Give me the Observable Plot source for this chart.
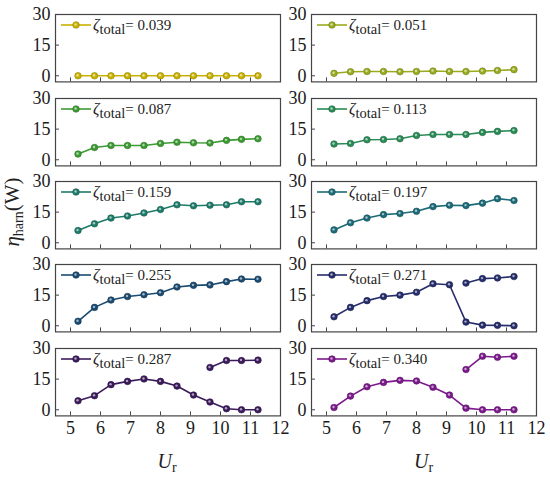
<!DOCTYPE html>
<html>
<head>
<meta charset="utf-8">
<script src="https://cdn.jsdelivr.net/npm/d3@7"></script>
<script src="https://cdn.jsdelivr.net/npm/@observablehq/plot@0.6"></script>
<style>
  html, body { margin: 0; padding: 0; background: #fff; }
  #chart { position: relative; width: 550px; height: 478px; overflow: hidden; font-family: "Liberation Serif", serif; }
  #chart svg.p { position: absolute; overflow: visible; }
</style>
</head>
<body>
<div id="chart"></div>
<script>
// ---------- data ----------
const Ur = [5.25, 5.8, 6.35, 6.9, 7.45, 8.0, 8.55, 9.1, 9.65, 10.2, 10.7, 11.25];
const UrUpper = [9.65, 10.2, 10.7, 11.25];
const zetas = ["0.039", "0.051", "0.087", "0.113", "0.159", "0.197", "0.255", "0.271", "0.287", "0.340"];
const colors = ["#c9b100", "#9aab1f", "#3c9b32", "#2a8b57", "#1e7b69", "#1c6b78", "#1b4b71", "#262d6b", "#3b1b5b", "#7b1a8b"];
const z039 = [0, 0, 0, 0, 0, 0, 0, 0, 0, 0, 0, 0];
const z051 = [1.2, 2.0, 2.1, 2.1, 2.0, 2.1, 2.3, 2.1, 2.1, 2.3, 2.6, 3.0];
const z087 = [2.8, 6.0, 7.0, 7.0, 7.0, 8.0, 8.6, 8.3, 8.2, 9.5, 10.0, 10.3];
const z113 = [7.7, 8.0, 9.8, 9.9, 10.3, 11.9, 12.4, 12.4, 12.4, 13.4, 13.9, 14.3];
const z159 = [6.0, 9.3, 12.1, 13.1, 14.6, 16.3, 18.6, 18.1, 18.4, 18.6, 20.1, 20.1];
const z197 = [6.3, 9.8, 12.1, 13.8, 14.3, 15.4, 17.7, 18.4, 18.2, 19.4, 21.6, 20.7];
const z255 = [2.2, 9.0, 12.6, 14.3, 15.2, 16.2, 19.0, 19.8, 20.0, 21.6, 22.9, 22.8];
const z271 = [4.4, 9.0, 12.3, 14.3, 15.0, 16.4, 20.6, 20.1, 1.8, 0.3, 0.2, 0.0];
const z271b = [20.9, 23.1, 23.4, 24.1];
const z287 = [4.4, 6.9, 12.3, 13.9, 15.1, 13.9, 11.6, 7.2, 3.8, 0.5, 0.0, 0.0];
const z287b = [20.7, 24.1, 24.1, 24.3];
const z340 = [1.1, 6.7, 11.3, 13.4, 14.4, 14.1, 11.0, 7.2, 0.8, 0.0, 0.0, 0.0];
const z340b = [19.7, 26.2, 25.7, 26.2];
const mainSeries = [z039, z051, z087, z113, z159, z197, z255, z271, z287, z340];
const upperSeries = [null, null, null, null, null, null, null, z271b, z287b, z340b];
const xTicks = [5, 6, 7, 8, 9, 10, 11, 12];
const yTicks = [0, 15, 30];

// ---------- layout ----------
const frameLeft = [54.5, 311];
const frameTop0 = 14.3, rowPitch = 83.3;
const fw = 225, fh = 67.4;
const mL = 40, mR = 14, mT = 10, mB = 8, mBbottom = 32;
const font = "Liberation Serif";

const chart = document.getElementById("chart");

mainSeries.forEach((vals, i) => {
  const row = Math.floor(i / 2), col = i % 2;
  const bottom = row === 4;
  const color = colors[i];
  const dark = d3.color(color).darker(0.8).formatHex();
  const data = vals.map((v, k) => ({u: Ur[k], v, branch: "a"}));
  if (upperSeries[i]) upperSeries[i].forEach((v, k) => data.push({u: UrUpper[k], v, branch: "b"}));
  const mb = bottom ? mBbottom : mB;
  const svg = Plot.plot({
    width: mL + fw + mR,
    height: mT + fh + mb,
    marginLeft: mL, marginRight: mR, marginTop: mT, marginBottom: mb,
    x: {domain: [4.5, 12]},
    y: {domain: [-3, 30]},
    style: {fontFamily: font, fontSize: "18px", color: "#222", background: "transparent", overflow: "visible"},
    marks: [
      Plot.text(yTicks, {y: d => d, frameAnchor: "left", textAnchor: "end", dx: -5,
        text: d => String(d), fontSize: 18, fontFamily: font, fill: "#1a1a1a"}),
      Plot.axisY({ticks: yTicks, tickSize: 4, dx: 4, text: null, label: null, stroke: "#444"}),
      Plot.axisX({ticks: xTicks, tickSize: 4, dy: -4, text: null, label: null, stroke: "#444"}),
      bottom ? Plot.text(xTicks, {x: d => d, frameAnchor: "bottom", lineAnchor: "top", dy: 5,
        text: d => String(d), fontSize: 18, fontFamily: font, fill: "#1a1a1a"}) : null,
      Plot.line(data, {x: "u", y: "v", z: "branch", stroke: color, strokeWidth: 1.6}),
      Plot.dot(data, {x: "u", y: "v", r: 3.3, fill: color, stroke: dark, strokeWidth: 0.6}),
      Plot.dot(data, {x: "u", y: "v", r: 1.2, fill: "white", fillOpacity: 0.6, stroke: "none", dx: -0.5, dy: -0.5}),
      Plot.frame({stroke: "#444", strokeWidth: 1.2})
    ]
  });
  svg.classList.add("p");
  svg.style.left = (frameLeft[col] - mL) + "px";
  svg.style.top = (frameTop0 + row * rowPitch - mT) + "px";
  // legend
  const g = d3.select(svg).append("g").attr("transform", `translate(${mL},${mT})`);
  const ly = 11;
  g.append("line").attr("x1", 6).attr("x2", 36).attr("y1", ly).attr("y2", ly)
    .attr("stroke", color).attr("stroke-width", 1.6);
  g.append("circle").attr("cx", 21).attr("cy", ly).attr("r", 3.3).attr("fill", color).attr("stroke", dark).attr("stroke-width", 0.6);
  g.append("circle").attr("cx", 20.5).attr("cy", ly - 0.5).attr("r", 1.2).attr("fill", "white").attr("fill-opacity", 0.6);
  const t = g.append("text").attr("x", 38).attr("y", ly + 5).attr("text-anchor", "start")
    .style("font-family", "'Liberation Serif', serif").style("font-size", "15px").attr("fill", "#222");
  t.append("tspan").attr("font-style", "italic").style("font-size", "16px").text("ζ");
  t.append("tspan").style("font-size", "14.5px").attr("dy", 4).text("total");
  t.append("tspan").attr("dy", -4).text("= " + zetas[i]);
  chart.appendChild(svg);
});

// axis titles overlay
const ov = d3.select(chart).append("svg").attr("width", 550).attr("height", 478)
  .style("position", "absolute").style("left", 0).style("top", 0).style("pointer-events", "none");
const yl = ov.append("text").attr("transform", "translate(19,212) rotate(-90)")
  .attr("text-anchor", "middle").style("font-family", "'Liberation Serif', serif").style("font-size", "21px").attr("fill", "#222");
yl.append("tspan").attr("font-style", "italic").text("η");
yl.append("tspan").style("font-size", "14px").attr("dy", 4).text("harn");
yl.append("tspan").attr("dy", -4).text("(W)");
[frameLeft[0] + fw / 2, frameLeft[1] + fw / 2].forEach(cx => {
  const xl = ov.append("text").attr("x", cx).attr("y", 468).attr("text-anchor", "middle")
    .style("font-family", "'Liberation Serif', serif").style("font-size", "20px").attr("fill", "#222");
  xl.append("tspan").attr("font-style", "italic").text("U");
  xl.append("tspan").style("font-size", "14px").attr("dy", 4).text("r");
});
</script>
</body>
</html>
